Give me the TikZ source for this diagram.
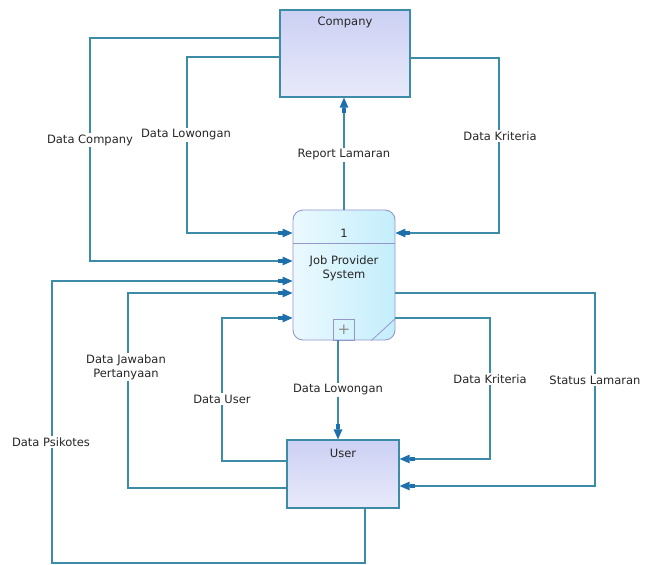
\documentclass[tikz,border=0pt]{standalone}
\usepackage{fontspec}
\setmainfont{DejaVu Sans}
\usetikzlibrary{arrows.meta}
\definecolor{flowline}{RGB}{60,140,168}
\definecolor{tipblue}{RGB}{30,112,172}
\definecolor{entfill}{RGB}{204,208,243}
\definecolor{procfill}{RGB}{196,238,252}
\definecolor{procdraw}{RGB}{150,150,204}
\begin{document}
\begin{tikzpicture}[x=1pt,y=-1pt]
  \tikzstyle{entity}=[draw=flowline, line width=1.2pt, top color=entfill, bottom color=entfill!45!white, minimum width=130pt, inner sep=0pt]
  \tikzstyle{process}=[draw=procdraw, line width=0.9pt, rounded corners=10pt, left color=procfill!35!white, right color=procfill, minimum width=102pt, minimum height=130pt, inner sep=0pt]
  \tikzstyle{flow}=[flowline, line width=1.3pt, -{Rectangle[length=5pt,width=4.5pt,color=tipblue]Triangle[length=10pt,width=8.5pt,color=tipblue]}]
  \tikzstyle{txt}=[font=\fontsize{11.5}{14}\selectfont, text=black!85, inner sep=1.5pt]
  \tikzstyle{lbl}=[txt, fill=white, align=center]

  \useasboundingbox[fill=white] (0,0) rectangle (649,565);

  % entitas luar
  \node[entity, minimum height=87pt] (company) at (345,53.5) {};
  \node[txt] (companytxt) at (345,22) {Company};
  \node[entity, minimum width=112pt, minimum height=68pt] (user) at (343,474) {};
  \node[txt] (usertxt) at (343,453) {User};

  % proses 1
  \node[process] (proc) at (344,275) {};
  \draw[procdraw, line width=0.9pt] (proc.west |- 0,243) -- (proc.east |- 0,243);
  \node[txt] (procnum) at (344,233) {1};
  \node[txt, align=center] (proctxt) at (344,268) {Job Provider\\System};
  \node[draw=procdraw, line width=0.8pt, minimum size=21pt, inner sep=0pt, anchor=south, text=black!45, font=\fontsize{15}{15}\selectfont] (plus) at (proc.south) {+};
  \draw[procdraw, line width=0.8pt] ([xshift=-24pt]proc.south east) -- ([yshift=22pt]proc.south east);

  % aliran company <-> proses
  \draw[flow] (company.west |- 0,38) -- (90,38) |- (proc.west |- 0,261);
  \draw[flow] (company.west |- 0,57) -- (187,57) |- (proc.west |- 0,233);
  \draw[flow] (company.east |- 0,58) -- (499,58) |- (proc.east |- 0,233);
  \draw[flow] (proc.north) -- (proc.north |- company.south);

  % aliran user <-> proses
  \draw[flow] (user.south -| 365,0) -- (365,563) -| (52,281) -- (proc.west |- 0,281);
  \draw[flow] (user.west |- 0,488) -- (128,488) |- (proc.west |- 0,293);
  \draw[flow] (user.west |- 0,461) -- (222,461) |- (proc.west |- 0,318);
  \draw[flow] (plus.south -| 338,0) -- (user.north -| 338,0);
  \draw[flow] (proc.east |- 0,318) -- (490,318) |- (user.east |- 0,459);
  \draw[flow] (proc.east |- 0,293) -- (595,293) |- (user.east |- 0,486);

  % label aliran
  \node[lbl] (lcompany) at (90,140) {Data Company};
  \node[lbl] (llowongan) at (186,135) {Data Lowongan};
  \node[lbl] (lkriteria) at (500,136) {Data Kriteria};
  \node[lbl] (lreport) at (344,155) {Report Lamaran};
  \node[lbl] (lpsikotes) at (51,442) {Data Psikotes};
  \node[lbl] (ljawaban) at (126,367) {Data Jawaban\\Pertanyaan};
  \node[lbl] (luser) at (222,399) {Data User};
  \node[lbl] (llowongan2) at (338,390) {Data Lowongan};
  \node[lbl] (lkriteria2) at (490,379) {Data Kriteria};
  \node[lbl] (lstatus) at (595,380) {Status Lamaran};
\end{tikzpicture}
\end{document}
